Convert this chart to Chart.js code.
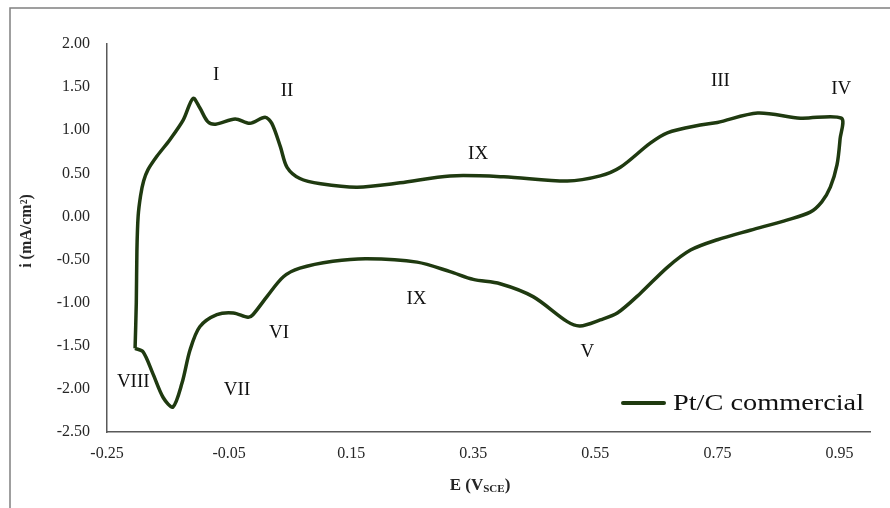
<!DOCTYPE html>
<html>
<head>
<meta charset="utf-8">
<script src="https://cdn.jsdelivr.net/npm/chart.js@4.4.1/dist/chart.umd.min.js"></script>
<style>
  html, body { margin: 0; padding: 0; background: #fff; }
  #wrap { width: 890px; height: 508px; position: relative; }
</style>
</head>
<body>
<div id="wrap"><canvas id="cv" width="890" height="508"></canvas></div>
<script>
// potential (V vs SCE) and current density (mA/cm2)
const potential = [
  -0.204, -0.202, -0.201, -0.199, -0.195, -0.190, -0.183, -0.168, -0.147, -0.125,
  -0.109, -0.098, -0.085, -0.072, -0.040, -0.016, 0.009, 0.020, 0.034, 0.045,
  0.066, 0.100, 0.160, 0.230, 0.312, 0.400, 0.504, 0.558, 0.591, 0.640,
  0.668, 0.722, 0.750, 0.816, 0.886, 0.953,
  0.951, 0.946, 0.935, 0.921, 0.902, 0.865, 0.804, 0.750, 0.706, 0.668, 0.624,
  0.586, 0.558, 0.525, 0.504, 0.448, 0.394, 0.350, 0.312, 0.258, 0.176,
  0.120, 0.066, 0.039, 0.012, -0.011, -0.019, -0.043, -0.070, -0.098, -0.114,
  -0.127, -0.142, -0.158, -0.175, -0.191, -0.204
];
const current = [
  -1.53, -1.00, -0.40, 0.00, 0.24, 0.41, 0.54, 0.70, 0.89, 1.12,
  1.37, 1.26, 1.10, 1.07, 1.13, 1.08, 1.15, 1.08, 0.81, 0.57,
  0.44, 0.38, 0.34, 0.39, 0.47, 0.46, 0.41, 0.47, 0.57, 0.85,
  0.97, 1.06, 1.09, 1.20, 1.14, 1.14,
  0.90, 0.60, 0.34, 0.17, 0.05, -0.04, -0.16, -0.27, -0.39, -0.59, -0.89,
  -1.12, -1.20, -1.27, -1.22, -0.93, -0.78, -0.73, -0.64, -0.53, -0.49,
  -0.52, -0.60, -0.70, -0.93, -1.14, -1.17, -1.12, -1.14, -1.28, -1.55,
  -1.93, -2.21, -2.10, -1.82, -1.57, -1.53
];
const xTicks = [-0.25, -0.05, 0.15, 0.35, 0.55, 0.75, 0.95];
const yTicks = [2.0, 1.5, 1.0, 0.5, 0.0, -0.5, -1.0, -1.5, -2.0, -2.5];

// peak labels
const peakText = ['I', 'II', 'IX', 'III', 'IV', 'IX', 'V', 'VI', 'VII', 'VIII'];
const peakE = [-0.071, 0.045, 0.358, 0.755, 0.953, 0.257, 0.537, 0.032, -0.037, -0.207];
const peakI = [1.64, 1.455, 0.724, 1.571, 1.478, -0.958, -1.573, -1.353, -2.014, -1.921];

const seriesName = 'Pt/C commercial';
const lineColor = '#1f3a10';
const serif = '"Liberation Serif", "DejaVu Serif", serif';

const points = potential.map((e, k) => ({ x: e, y: current[k] }));

const decor = {
  id: 'decor',
  beforeDraw(chart) {
    const ctx = chart.ctx;
    ctx.save();
    ctx.strokeStyle = '#808080';
    ctx.lineWidth = 1.5;
    ctx.strokeRect(10, 8, 900, 520);
    ctx.restore();
  },
  afterDraw(chart) {
    const ctx = chart.ctx;
    const xs = chart.scales.x, ys = chart.scales.y;
    ctx.save();
    ctx.fillStyle = '#111';
    ctx.textAlign = 'center';
    ctx.textBaseline = 'middle';
    ctx.font = '19px ' + serif;
    peakText.forEach((t, k) => {
      ctx.fillText(t, xs.getPixelForValue(peakE[k]), ys.getPixelForValue(peakI[k]));
    });

    // y title
    ctx.save();
    ctx.translate(27, 231);
    ctx.rotate(-Math.PI / 2);
    ctx.font = 'bold 16px ' + serif;
    ctx.fillStyle = '#262626';
    ctx.fillText('i (mA/cm\u00b2)', 0, 0);
    ctx.restore();

    // x title with subscript
    ctx.fillStyle = '#262626';
    ctx.textAlign = 'left';
    ctx.textBaseline = 'alphabetic';
    const big = 'bold 17px ' + serif, small = 'bold 11px ' + serif;
    ctx.font = big;
    const w1 = ctx.measureText('E (V').width;
    const w3 = ctx.measureText(')').width;
    ctx.font = small;
    const w2 = ctx.measureText('SCE').width;
    let x0 = 480 - (w1 + w2 + w3) / 2;
    const base = 490;
    ctx.font = big;
    ctx.fillText('E (V', x0, base);
    ctx.font = small;
    ctx.fillText('SCE', x0 + w1, base + 2);
    ctx.font = big;
    ctx.fillText(')', x0 + w1 + w2, base);

    // legend
    ctx.strokeStyle = lineColor;
    ctx.lineWidth = 4;
    ctx.lineCap = 'round';
    ctx.beginPath();
    ctx.moveTo(623, 403);
    ctx.lineTo(664, 403);
    ctx.stroke();
    ctx.font = '24px ' + serif;
    ctx.fillStyle = '#111';
    const lw = ctx.measureText(seriesName).width;
    ctx.save();
    ctx.translate(673, 410);
    ctx.scale(191 / lw, 1);
    ctx.fillText(seriesName, 0, 0);
    ctx.restore();
    ctx.restore();
  }
};

new Chart(document.getElementById('cv'), {
  type: 'scatter',
  data: {
    datasets: [{
      label: seriesName,
      data: points,
      showLine: true,
      borderColor: lineColor,
      borderWidth: 3.5,
      pointRadius: 0,
      tension: 0.3,
      fill: false
    }]
  },
  options: {
    responsive: false,
    animation: false,
    layout: { padding: { left: 0, top: 44, right: 20, bottom: 0 } },
    plugins: { legend: { display: false }, tooltip: { enabled: false } },
    scales: {
      x: {
        type: 'linear',
        min: -0.25,
        max: 1.0,
        afterBuildTicks: (s) => { s.ticks = xTicks.map(v => ({ value: v })); },
        afterFit: (s) => { s.height = 76; },
        grid: { display: false, drawTicks: false },
        border: { display: true, color: '#595959', width: 1.5 },
        ticks: {
          padding: 12,
          color: '#262626',
          font: { family: serif, size: 16 },
          callback: (v) => v.toFixed(2)
        }
      },
      y: {
        type: 'linear',
        min: -2.5,
        max: 2.0,
        afterBuildTicks: (s) => { s.ticks = yTicks.map(v => ({ value: v })); },
        afterFit: (s) => { s.width = 107; },
        grid: { display: false, drawTicks: false },
        border: { display: true, color: '#595959', width: 1.5 },
        ticks: {
          padding: 17,
          color: '#262626',
          font: { family: serif, size: 16 },
          callback: (v) => v.toFixed(2)
        }
      }
    }
  },
  plugins: [decor]
});
</script>
</body>
</html>
